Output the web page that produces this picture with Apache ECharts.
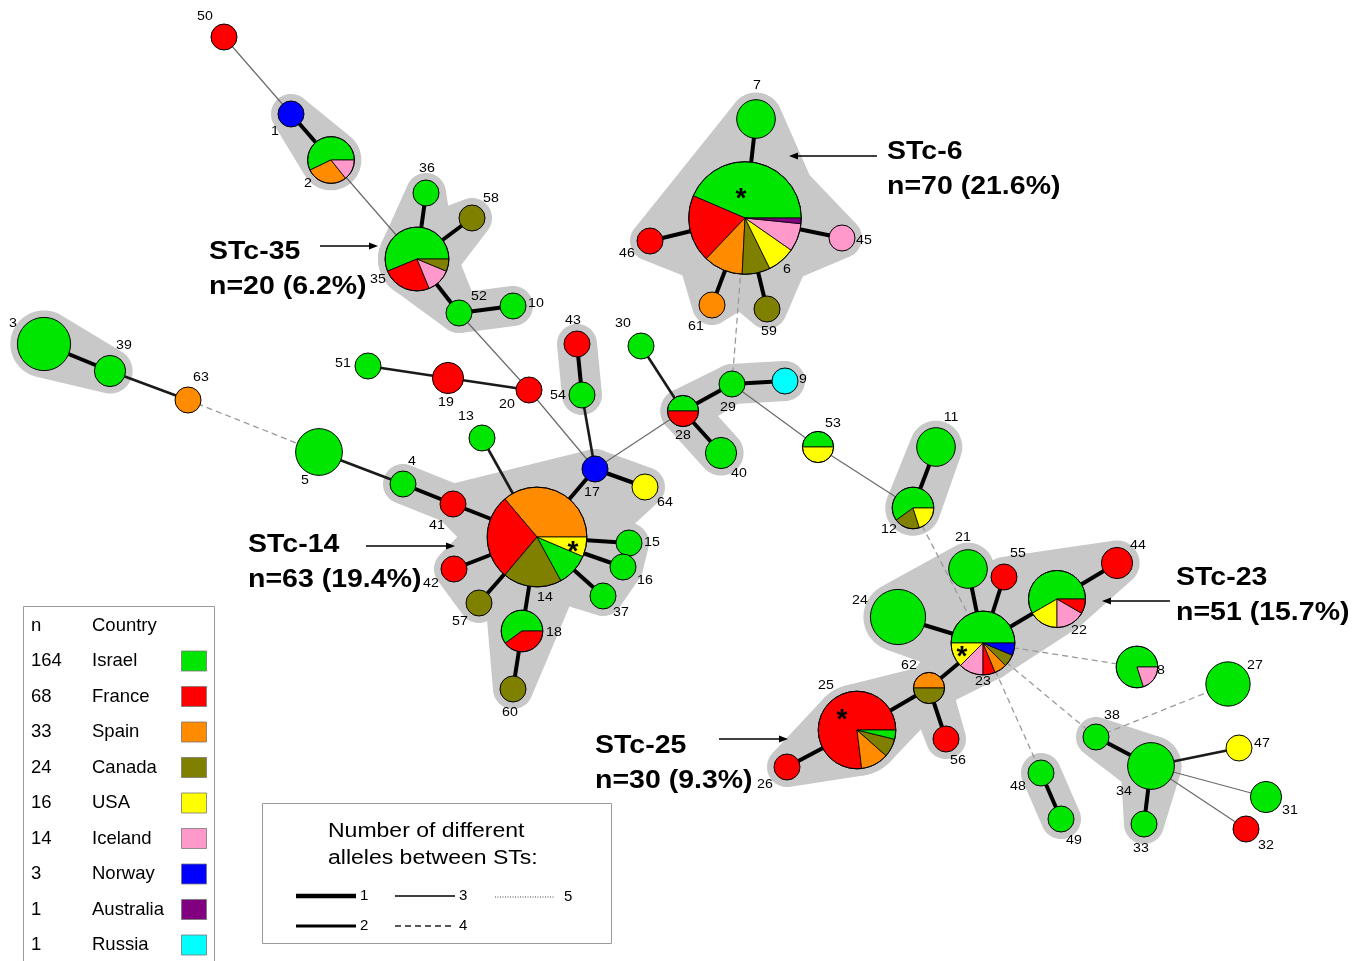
<!DOCTYPE html>
<html><head><meta charset="utf-8">
<script src="https://cdn.jsdelivr.net/npm/echarts@6/dist/echarts.min.js"></script>
<style>html,body{margin:0;padding:0;background:#fff}#c{width:1366px;height:961px}</style>
</head><body><div id="c"></div>
<script>
// ---------------- DATA ----------------
const countries = ['Israel','France','Spain','Canada','USA','Iceland','Norway','Australia','Russia'];
const countryTotals = [164,68,33,24,16,14,3,1,1];

const stIds = [1,2,3,4,5,6,7,8,9,10,11,12,13,14,15,16,17,18,19,20,21,22,23,24,25,26,27,28,29,30,31,32,
  33,34,35,36,37,38,39,40,41,42,43,44,45,46,47,48,49,50,51,52,53,54,55,56,57,58,59,60,61,62,63,64];
// layout coordinates of the minimum spanning tree
const stLayoutX = [291,331,44,403,319,745,756,1137,785,513,936,913,482,537,629,623,595,522,448,529,968,1057,983,898,857,787,1228,683,732,641,1266,1246,
  1144,1151,417,426,603,1096,110,721,453,454,577,1117,842,650,1239,1041,1061,224,368,459,818,582,1004,946,479,472,767,513,712,929,188,645];
const stLayoutY = [114,160,344,484,452,218,119,667,381,306,447,508,438,537,543,567,469,631,378,390,569,599,643,617,730,767,684,411,384,346,797,829,
  824,766,259,193,596,737,371,453,504,569,344,563,238,241,748,773,819,37,366,313,447,395,577,739,603,218,309,689,305,688,400,487];
// isolates per ST by country: [Israel, France, Spain, Canada, USA, Iceland, Norway, Australia, Russia]
const stProfiles = [
  [0,0,0,0,0,0,1],[4,0,2,0,0,1],[10],[1],[7],[27,12,7,5,5,5,0,1],[4],[4,0,0,0,0,1],[0,0,0,0,0,0,0,0,1],[1],
  [4],[3,0,0,1,1],[1],[5,13,17,9,3],[1],[1],[0,0,0,0,0,0,1],[3,2],[0,2],[0,1],
  [4],[7,1,0,0,2,2],[8,1,1,1,2,2,1],[11],[1,20,3,2],[0,1],[6],[1,1],[1],[1],
  [2],[0,1],[1],[7],[9,4,0,1,0,2],[1],[1],[1],[2],[2],
  [0,1],[0,1],[0,1],[0,2],[0,0,0,0,0,1],[0,1],[0,0,0,0,1],[1],[1],[0,1],
  [1],[1],[1,0,0,0,1],[1],[0,1],[0,1],[0,0,0,1],[0,0,0,1],[0,0,0,1],[0,0,0,1],
  [0,0,1],[0,0,1,1],[0,0,1],[0,0,0,0,1]
];
// [ST a, ST b, number of different alleles]
const links = [
  [50,1,3],[1,2,1],[2,35,3],[35,36,1],[35,58,1],[35,52,1],[52,10,1],[52,20,3],[3,39,1],[39,63,2],[63,5,4],[5,4,2],
  [4,41,1],[41,14,1],[13,14,2],[51,19,2],[19,20,2],[20,17,3],[43,54,1],[54,17,2],[17,14,1],[17,64,1],[17,28,3],
  [30,28,2],[28,29,1],[28,40,1],[29,9,1],[29,53,3],[53,12,3],[12,11,1],[12,23,4],[6,29,4],[6,7,1],[6,46,1],[6,45,1],
  [6,61,1],[6,59,1],[14,42,1],[14,57,1],[14,18,1],[18,60,1],[14,15,1],[14,16,1],[14,37,1],[23,21,1],[23,55,1],
  [23,24,1],[23,22,1],[22,44,1],[23,62,1],[62,25,1],[62,56,1],[25,26,1],[23,8,4],[23,38,4],[23,48,4],[38,27,4],
  [38,34,1],[34,33,1],[34,47,2],[34,31,3],[34,32,3],[48,49,1]
];
// groups of STs enclosed by the grey clonal-complex shading
const complexHulls = [
  [35,36],[35,58],[35,52],[52,10],[1,2],[3,39],
  [4,41],[41,14,17],[14,17,64],[14,15,16],[14,16,37],[14,18,60],[14,42,57],
  [6,7,46],[6,7],[6,61],[6,59],[6,45],
  [28,29],[29,9],[28,40],[43,54],[11,12],
  [23,21,24],[23,55,22,44],[23,62],[62,25],[25,26],[62,56],
  [48,49],[38,34],[34,33]
];
const founders = [6,14,23,25];
const complexNames = ['STc-6','STc-35','STc-14','STc-23','STc-25'];
const complexSizes = [70,20,63,51,30];
const complexShares = [21.6,6.2,19.4,15.7,9.3];
const alleleClasses = [1,2,3,4,5];

// ---------------- STYLE ----------------
const FONT = '"Liberation Sans", Arial, sans-serif';
const countryColors = ['#00E600','#FF0000','#FF8C00','#808000','#FFFF00','#FF99CC','#0000FF','#800080','#00FFFF'];
const linkStyles = {
  1:{stroke:'#000',lineWidth:4},
  2:{stroke:'#1a1a1a',lineWidth:2.6},
  3:{stroke:'#6a6a6a',lineWidth:1.2},
  4:{stroke:'#9a9a9a',lineWidth:1.3,lineDash:[6,4]},
  5:{stroke:'#777',lineWidth:1,lineDash:[1,2]}
};
const legendLineStyles = {
  1:{stroke:'#000',lineWidth:4.5},
  2:{stroke:'#000',lineWidth:3},
  3:{stroke:'#000',lineWidth:1.5},
  4:{stroke:'#222',lineWidth:1.5,lineDash:[6,4]},
  5:{stroke:'#444',lineWidth:1,lineDash:[1,1.5]}
};
const haloPadDefault = 7;
const haloPadOverride = {6:20};
const labelOffset = {1:[-16,17],2:[-23,23],3:[-31,-21],4:[9,-23],5:[-14,28],6:[42,51],7:[1,-34],8:[24,3],9:[18,-2],10:[23,-3],
  11:[15,-30],12:[-24,21],13:[-16,-22],14:[8,60],15:[23,-1],16:[22,13],17:[-3,23],18:[32,1],19:[-2,24],20:[-22,14],
  21:[-5,-32],22:[22,31],23:[0,38],24:[-38,-17],25:[-31,-45],26:[-22,17],27:[27,-19],28:[0,24],29:[-4,23],30:[-18,-23],
  31:[24,13],32:[20,16],33:[-3,24],34:[-27,25],35:[-39,20],36:[1,-25],37:[18,16],38:[16,-22],39:[14,-26],40:[18,20],
  41:[-16,21],42:[-23,14],43:[-4,-24],44:[21,-18],45:[22,2],46:[-23,12],47:[23,-5],48:[-23,13],49:[13,21],50:[-19,-21],
  51:[-25,-3],52:[20,-17],53:[15,-24],54:[-24,0],55:[14,-24],56:[12,21],57:[-19,18],58:[19,-20],59:[2,22],60:[-3,23],
  61:[-16,21],62:[-20,-23],63:[13,-23],64:[20,15]};
const starOffset = {6:[-4,-19],14:[36,15],23:[-21,14],25:[-15,-10]};
const complexTextPos = [[887,152],[209,252],[248,545],[1176,578],[595,746]];
const complexArrow = [[877,789,156],[320,378,246],[366,455,546],[1170,1102,601],[719,788,739]];

// ---------------- HELPERS ----------------
const idxOf = {}; stIds.forEach((id,i)=>{idxOf[id]=i;});
const prof = i => countries.map((c,k)=>stProfiles[i][k]||0);
const totalOf = i => prof(i).reduce((a,b)=>a+b,0);
const radiusOf = n => 13 + 6.3*(Math.sqrt(n)-1);
function convexHull(points){
  points.sort((a,b)=>a[0]-b[0]||a[1]-b[1]);
  const cross=(o,a,b)=>(a[0]-o[0])*(b[1]-o[1])-(a[1]-o[1])*(b[0]-o[0]);
  const lower=[],upper=[];
  for(const p of points){while(lower.length>=2&&cross(lower[lower.length-2],lower[lower.length-1],p)<=0)lower.pop();lower.push(p);}
  for(let i=points.length-1;i>=0;i--){const p=points[i];while(upper.length>=2&&cross(upper[upper.length-2],upper[upper.length-1],p)<=0)upper.pop();upper.push(p);}
  upper.pop();lower.pop();return lower.concat(upper);
}

const chart = echarts.init(document.getElementById('c'), null, {renderer:'canvas'});

const haloData = complexHulls.map((g,i)=>{const j=idxOf[g[0]];return [stLayoutX[j],stLayoutY[j],i];});
const linkData = links.map(l=>{const a=idxOf[l[0]],b=idxOf[l[1]];return [stLayoutX[a],stLayoutY[a],stLayoutX[b],stLayoutY[b],l[2]];});
const nodeData = stIds.map((id,i)=>[stLayoutX[i],stLayoutY[i],i]);

// ---------------- GRAPHIC (annotations & legends) ----------------
const els = [];
complexNames.forEach((nm,i)=>{
  const [tx,ty]=complexTextPos[i];
  els.push({type:'text',z:50,x:tx,y:ty,scaleX:1.14,style:{text:nm,font:'bold 25px '+FONT,fill:'#000',align:'left',verticalAlign:'middle'}});
  els.push({type:'text',z:50,x:tx,y:ty+35,scaleX:1.14,style:{text:'n='+complexSizes[i]+' ('+complexShares[i]+'%)',font:'bold 25px '+FONT,fill:'#000',align:'left',verticalAlign:'middle'}});
  const [x1,x2,ay]=complexArrow[i]; const d=Math.sign(x2-x1);
  els.push({type:'line',z:50,shape:{x1:x1,y1:ay,x2:x2-d*6,y2:ay},style:{stroke:'#000',lineWidth:1.3}});
  els.push({type:'polygon',z:50,shape:{points:[[x2,ay],[x2-d*9,ay-3.5],[x2-d*9,ay+3.5]]},style:{fill:'#000'}});
});
// country legend
els.push({type:'rect',z:40,shape:{x:23.5,y:606.5,width:191,height:380},style:{fill:'#fff',stroke:'#9a9a9a',lineWidth:1}});
els.push({type:'text',z:50,x:31,y:626,style:{text:'n',font:'18.5px '+FONT,fill:'#000',verticalAlign:'middle'}});
els.push({type:'text',z:50,x:92,y:626,style:{text:'Country',font:'18.5px '+FONT,fill:'#000',verticalAlign:'middle'}});
countries.forEach((c,k)=>{
  const y=661+k*35.5;
  els.push({type:'text',z:50,x:31,y:y,style:{text:String(countryTotals[k]),font:'18.5px '+FONT,fill:'#000',verticalAlign:'middle'}});
  els.push({type:'text',z:50,x:92,y:y,style:{text:c,font:'18.5px '+FONT,fill:'#000',verticalAlign:'middle'}});
  els.push({type:'rect',z:50,shape:{x:181.5,y:y-10,width:25,height:20},style:{fill:countryColors[k],stroke:'#777',lineWidth:0.8}});
});
// allele-difference legend
els.push({type:'rect',z:40,shape:{x:262.5,y:803.5,width:349,height:140},style:{fill:'#fff',stroke:'#9a9a9a',lineWidth:1}});
els.push({type:'text',z:50,x:328,y:831,scaleX:1.15,style:{text:'Number of different',font:'20px '+FONT,fill:'#000',verticalAlign:'middle'}});
els.push({type:'text',z:50,x:328,y:858,scaleX:1.15,style:{text:'alleles between STs:',font:'20px '+FONT,fill:'#000',verticalAlign:'middle'}});
const legPos = {1:[296,896],3:[395,896],5:[495,897],2:[296,926],4:[395,926]};
alleleClasses.forEach(a=>{
  const [lx,ly]=legPos[a];
  els.push({type:'line',z:50,shape:{x1:lx,y1:ly,x2:lx+60,y2:ly},style:Object.assign({},legendLineStyles[a])});
  els.push({type:'text',z:50,x:lx+(a===5?69:64),y:ly,style:{text:String(a),font:'15px '+FONT,fill:'#000',verticalAlign:'middle'}});
});

const option = {
  animation:false,
  backgroundColor:'#fff',
  grid:{left:0,right:0,top:0,bottom:0},
  xAxis:{type:'value',min:0,max:1366,show:false},
  yAxis:{type:'value',min:0,max:961,inverse:true,show:false},
  graphic:{elements:els},
  series:[
    {type:'custom',name:'complexes',z:1,silent:true,clip:false,data:haloData,encode:{x:0,y:1},
     renderItem:function(params,api){
       const g=complexHulls[api.value(2)];
       const pts=[];
       g.forEach(id=>{const i=idxOf[id];const c=api.coord([stLayoutX[i],stLayoutY[i]]);
         const pad=(haloPadOverride[id]!==undefined)?haloPadOverride[id]:haloPadDefault;
         const R=radiusOf(totalOf(i))+pad;
         for(let k=0;k<72;k++){const t=k/72*2*Math.PI;pts.push([c[0]+R*Math.cos(t),c[1]+R*Math.sin(t)]);}});
       return {type:'polygon',shape:{points:convexHull(pts)},style:{fill:'#C8C8C8'}};
     }},
    {type:'custom',name:'links',z:2,silent:true,clip:false,data:linkData,encode:{x:[0,2],y:[1,3]},
     renderItem:function(params,api){
       const p1=api.coord([api.value(0),api.value(1)]),p2=api.coord([api.value(2),api.value(3)]);
       return {type:'line',shape:{x1:p1[0],y1:p1[1],x2:p2[0],y2:p2[1]},style:Object.assign({fill:null},linkStyles[api.value(4)])};
     }},
    {type:'custom',name:'STs',z:3,silent:true,clip:false,data:nodeData,encode:{x:0,y:1},
     renderItem:function(params,api){
       const i=api.value(2);const c=api.coord([api.value(0),api.value(1)]);
       const p=prof(i);const n=totalOf(i);const r=radiusOf(n);
       const sl=p.map((v,k)=>({v,k})).filter(d=>d.v>0).sort((a,b)=>b.v-a.v||a.k-b.k);
       const ch=[];
       if(sl.length===1){
         ch.push({type:'circle',shape:{cx:c[0],cy:c[1],r:r},style:{fill:countryColors[sl[0].k],stroke:'#000',lineWidth:1}});
       } else {
         let a=0;
         sl.forEach(s=>{const a2=a+s.v/n*2*Math.PI;
           ch.push({type:'sector',shape:{cx:c[0],cy:c[1],r0:0,r:r,startAngle:-a,endAngle:-a2,clockwise:false},style:{fill:countryColors[s.k],stroke:'#000',lineWidth:0.8}});
           a=a2;});
         ch.push({type:'circle',shape:{cx:c[0],cy:c[1],r:r},style:{fill:'none',stroke:'#000',lineWidth:1}});
       }
       const id=stIds[i];
       if(founders.indexOf(id)>=0){const o=starOffset[id];
         ch.push({type:'text',x:c[0]+o[0],y:c[1]+o[1],style:{text:'*',font:'bold 28px '+FONT,fill:'#000',align:'center',verticalAlign:'middle'}});}
       return {type:'group',children:ch};
     }},
    {type:'custom',name:'labels',z:4,silent:true,clip:false,data:nodeData,encode:{x:0,y:1},
     renderItem:function(params,api){
       const i=api.value(2);const c=api.coord([api.value(0),api.value(1)]);const id=stIds[i];const o=labelOffset[id];
       return {type:'text',x:c[0]+o[0],y:c[1]+o[1],scaleX:1.05,style:{text:String(id),font:'13.5px '+FONT,fill:'#000',align:'center',verticalAlign:'middle'}};
     }}
  ]
};
chart.setOption(option);
</script></body></html>
